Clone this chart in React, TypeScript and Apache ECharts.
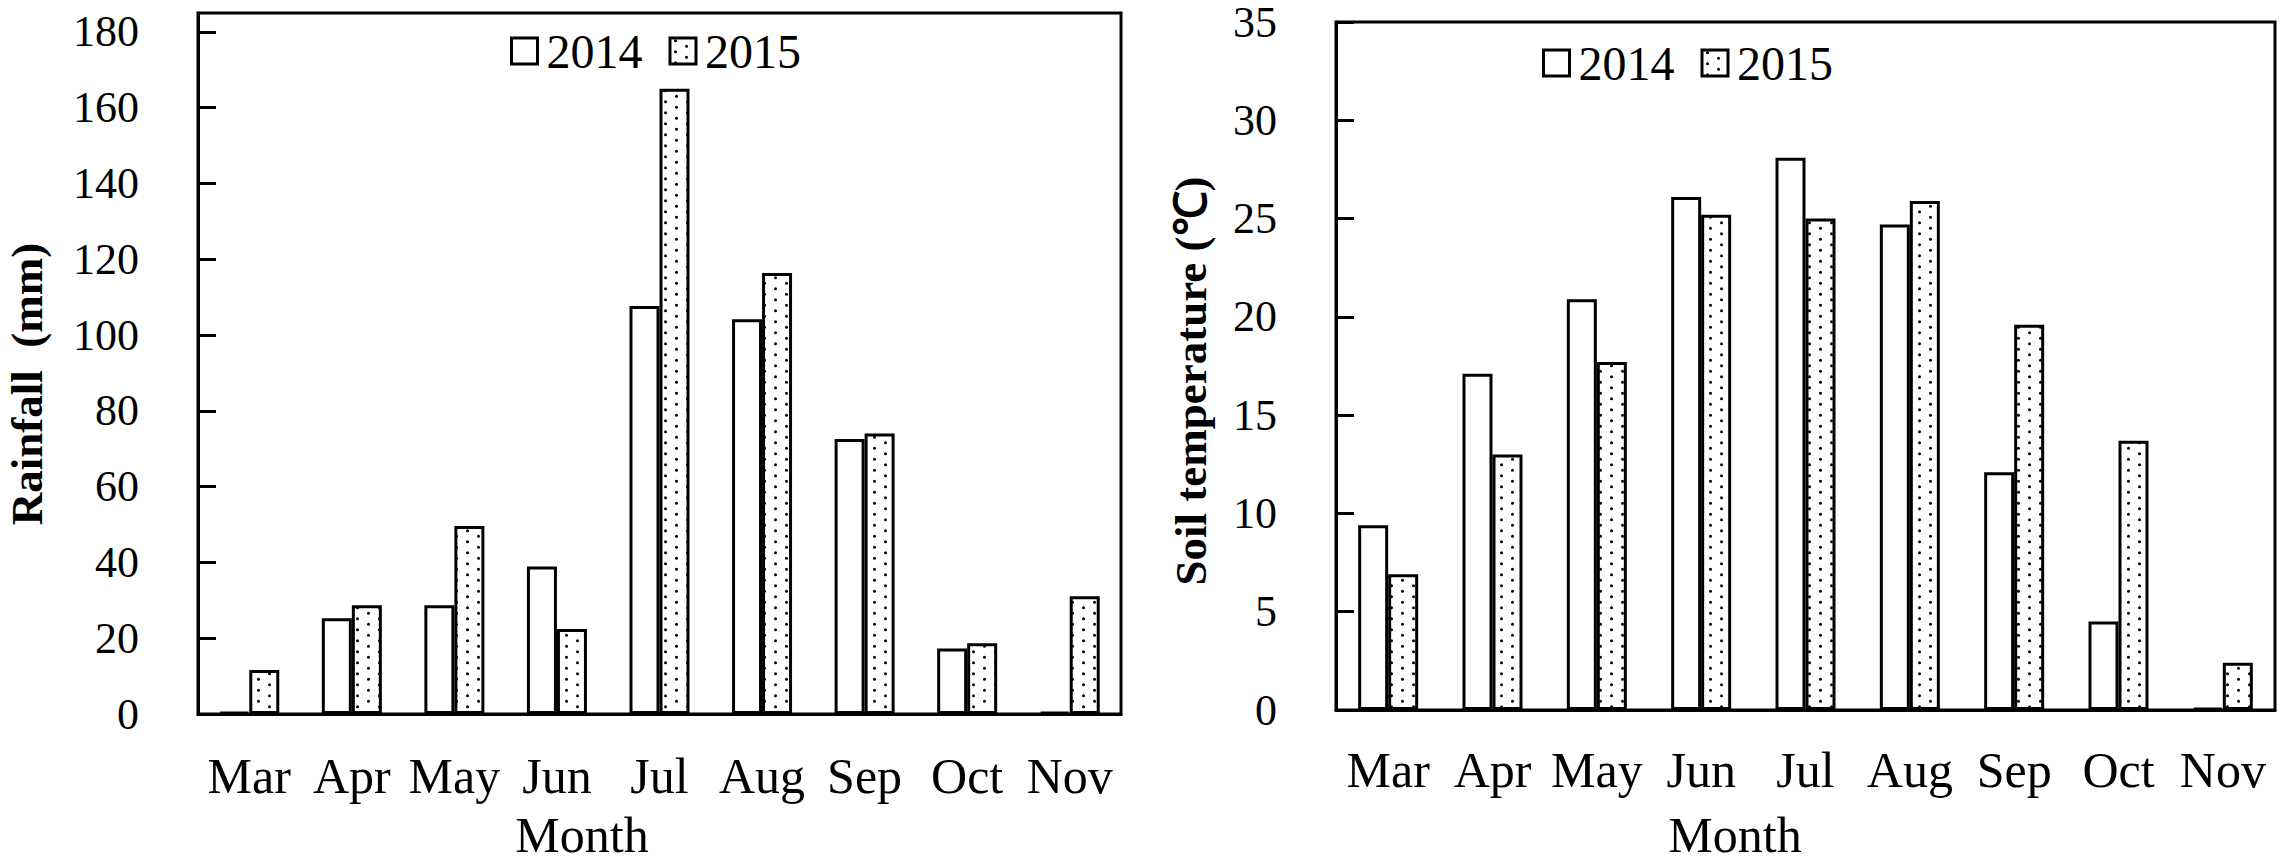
import React, { useEffect, useRef } from "react";
import * as echarts from "echarts";

const months = ["Mar", "Apr", "May", "Jun", "Jul", "Aug", "Sep", "Oct", "Nov"];
const yearNames = ["2014", "2015"];
const rainfall2014 = [0.5, 25.3, 28.7, 38.9, 107.7, 104.2, 72.6, 17.3, 0.5];
const rainfall2015 = [11.6, 28.7, 49.6, 22.4, 165.0, 116.4, 74.0, 18.7, 31.1];
const soilTemp2014 = [9.4, 17.1, 20.9, 26.1, 28.1, 24.7, 12.1, 4.5, 0.1];
const soilTemp2015 = [6.9, 13.0, 17.7, 25.2, 25.0, 25.9, 19.6, 13.7, 2.4];

const FONT = "'Liberation Serif', 'Times New Roman', serif";

function makeDots(): HTMLCanvasElement {
  const c = document.createElement("canvas");
  c.width = 22;
  c.height = 22;
  const ctx = c.getContext("2d")!;
  ctx.fillStyle = "#fff";
  ctx.fillRect(0, 0, 22, 22);
  ctx.fillStyle = "#000";
  const pts = [
    [5.5, 2.75],
    [16.5, 8.25],
    [5.5, 13.75],
    [16.5, 19.25],
  ];
  pts.forEach(([x, y]) => {
    ctx.beginPath();
    ctx.arc(x, y, 1.5, 0, Math.PI * 2);
    ctx.fill();
  });
  return c;
}

function titleText(text: string, x: number, y: number, rotate: boolean, bold: boolean, size: number) {
  return {
    type: "text",
    x,
    y,
    rotation: rotate ? Math.PI / 2 : 0,
    style: {
      text,
      fontSize: size,
      fontWeight: bold ? "bold" : "normal",
      fontFamily: FONT,
      fill: "#000",
      lineHeight: size * 0.85,
      align: "center",
      verticalAlign: "middle",
      textAlign: "center",
      textVerticalAlign: "middle",
    },
  };
}

export default function App() {
  const ref = useRef<HTMLDivElement>(null);

  useEffect(() => {
    if (!ref.current) return;
    const chart = echarts.init(ref.current, undefined, { renderer: "svg" });
    const dots = makeDots();
    const whiteStyle = { color: "#fff", borderColor: "#000", borderWidth: 3 };
    const dotStyle = { color: { image: dots, repeat: "repeat" }, borderColor: "#000", borderWidth: 3 };

    const xAxisBase = (gridIndex: number, margin: number) => ({
      type: "category",
      gridIndex,
      data: months,
      axisLine: { lineStyle: { color: "#000", width: 3 } },
      axisTick: { inside: true, length: 16, lineStyle: { color: "#000", width: 3 } },
      axisLabel: { color: "#000", fontSize: 50, fontFamily: FONT, margin, interval: 0 },
      splitLine: { show: false },
    });

    const yAxisBase = (gridIndex: number, max: number, interval: number, showMax: boolean) => ({
      type: "value",
      gridIndex,
      min: 0,
      max,
      interval,
      axisLine: { show: true, lineStyle: { color: "#000", width: 3 } },
      axisTick: { show: true, inside: true, length: 18, lineStyle: { color: "#000", width: 3 } },
      axisLabel: { color: "#000", fontSize: 44, fontFamily: FONT, lineHeight: 34, margin: 59, showMaxLabel: showMax },
      splitLine: { show: false },
    });

    const legendText = { color: "#000", fontSize: 48, fontFamily: FONT, fontWeight: "normal", fontStyle: "normal", padding: [0, 0, 0, 4] };

    const legendBase = (left: number, top: number) => ({
      left,
      top,
      orient: "horizontal",
      data: yearNames.map((name) => ({ name, textStyle: legendText })),
      icon: "rect",
      itemWidth: 26,
      itemHeight: 26,
      itemGap: 26,
      itemStyle: { borderColor: "#000", borderWidth: 3 },
      textStyle: legendText,
      selectedMode: false,
    });

    chart.setOption({
      animation: false,
      backgroundColor: "#fff",
      textStyle: { fontFamily: FONT },
      grid: [
        { left: 198, top: 13, width: 923, height: 701, show: true, borderColor: "#000", borderWidth: 3, backgroundColor: "transparent" },
        { left: 1336, top: 20, width: 939, height: 690, show: true, borderColor: "#000", borderWidth: 3, backgroundColor: "transparent" },
      ],
      legend: [legendBase(505, 22), legendBase(1537, 34)],
      xAxis: [xAxisBase(0, 37), xAxisBase(1, 35)],
      yAxis: [yAxisBase(0, 185, 20, false), yAxisBase(1, 35, 5, true)],
      series: [
        { type: "bar", name: yearNames[0], xAxisIndex: 0, yAxisIndex: 0, data: rainfall2014, barWidth: 30, barGap: "0%", itemStyle: whiteStyle },
        { type: "bar", name: yearNames[1], xAxisIndex: 0, yAxisIndex: 0, data: rainfall2015, barWidth: 30, barGap: "0%", itemStyle: dotStyle },
        { type: "bar", name: yearNames[0], xAxisIndex: 1, yAxisIndex: 1, data: soilTemp2014, barWidth: 30, barGap: "0%", itemStyle: whiteStyle },
        { type: "bar", name: yearNames[1], xAxisIndex: 1, yAxisIndex: 1, data: soilTemp2015, barWidth: 30, barGap: "0%", itemStyle: dotStyle },
      ],
      graphic: [
        titleText("Rainfall  (mm)", 27, 384, true, true, 45),
        titleText("Soil temperature (℃)", 1191, 381, true, true, 45),
        titleText("Month", 582, 835, false, false, 50),
        titleText("Month", 1735, 835, false, false, 50),
      ],
    });

    return () => {
      chart.dispose();
    };
  }, []);

  return (
    <div
      ref={ref}
      style={{ position: "fixed", left: 0, top: 0, width: 2281, height: 863, background: "#fff" }}
    />
  );
}
